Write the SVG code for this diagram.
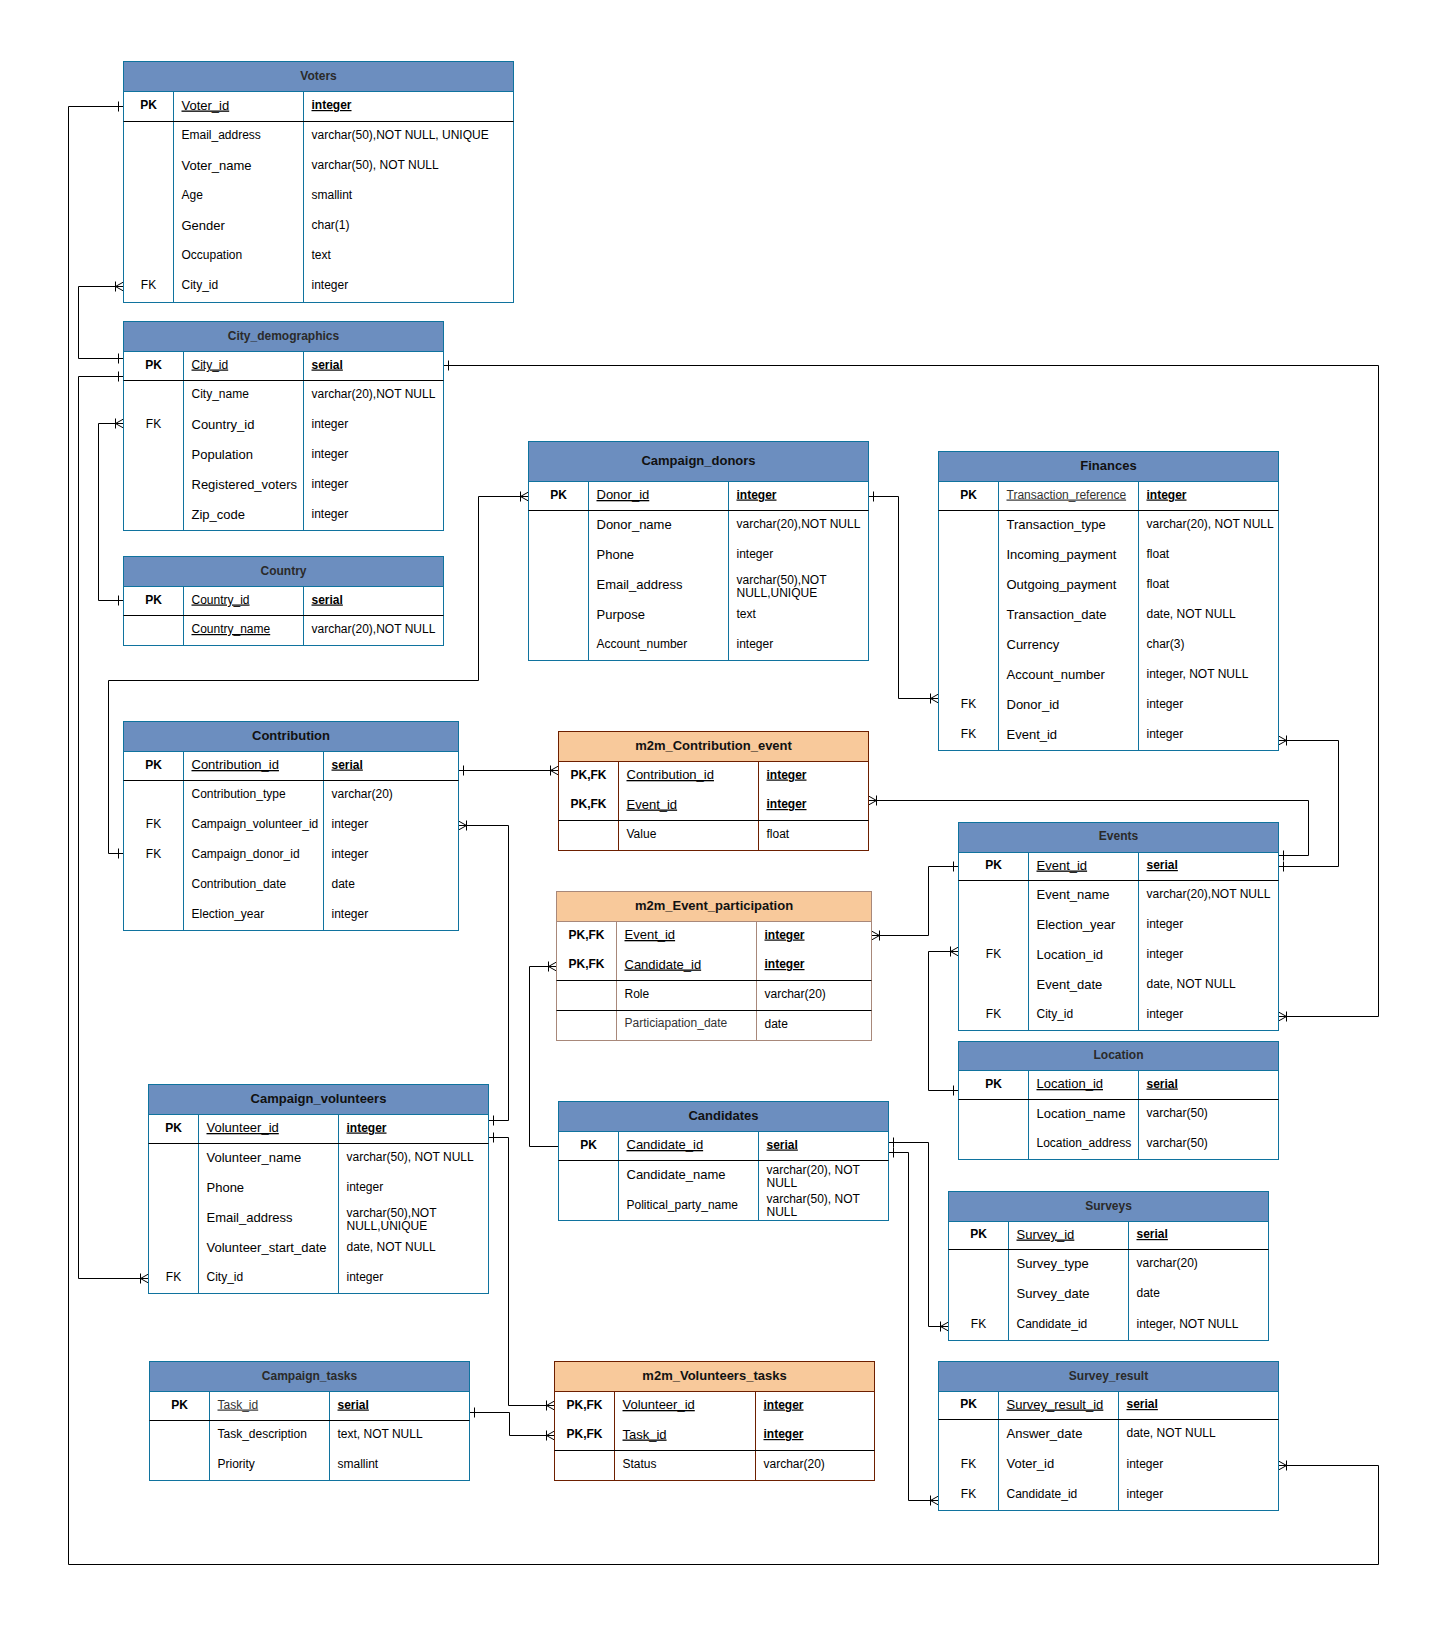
<svg xmlns="http://www.w3.org/2000/svg" width="1448" height="1634" viewBox="0 0 1448 1634">
<style>
text { font-family: "Liberation Sans", Arial, sans-serif; fill: #000; }
.s12 { font-size: 12px; }
.s13 { font-size: 13px; }
.b { font-weight: bold; }
.u { text-decoration: underline; }
.c { text-anchor: middle; }
.g { fill: #333; }
.tb { font-size: 13px; font-weight: bold; text-anchor: middle; fill: #111; }
.tp { font-size: 12px; font-weight: bold; text-anchor: middle; fill: #2a2a2a; }
.hb { fill: #6c8ebf; stroke: #10739e; }
.bb { fill: #fff; stroke: #10739e; }
.cb { fill: none; stroke: #10739e; }
.ho { fill: #f8c99b; stroke: #6d1f00; }
.bo { fill: #fff; stroke: #6d1f00; }
.co { fill: none; stroke: #6d1f00; }
.ho2 { fill: #f8c99b; stroke: #a8887a; }
.bo2 { fill: #fff; stroke: #a8887a; }
.co2 { fill: none; stroke: #a8887a; }
.sep { fill: none; stroke: #000; }
.cn { fill: none; stroke: #000; stroke-width: 1; }
</style>
<defs>
  <!-- single bar: exactly one -->
  <marker id="one" markerUnits="userSpaceOnUse" markerWidth="24" markerHeight="24" viewBox="-12 -12 24 24" refX="0" refY="0" orient="auto-start-reverse" overflow="visible">
    <path d="M-5,-5V5" fill="none" stroke="#000"/>
  </marker>
  <!-- crow's foot with bar: one or many -->
  <marker id="many" markerUnits="userSpaceOnUse" markerWidth="24" markerHeight="24" viewBox="-12 -12 24 24" refX="0" refY="0" orient="auto-start-reverse" overflow="visible">
    <path d="M0,-4.5L-8,0L0,4.5M-8,-5V5" fill="none" stroke="#000"/>
  </marker>
</defs>
<rect width="1448" height="1634" fill="#fff"/>

<g id="connectors" transform="translate(0.5,0.5)">
  <path class="cn" d="M123,106H68V1564H1378V1465H1278" marker-start="url(#one)" marker-end="url(#many)"/>
  <path class="cn" d="M123,286H78V358H123" marker-start="url(#many)" marker-end="url(#one)"/>
  <path class="cn" d="M123,376H78V1278H148" marker-start="url(#one)" marker-end="url(#many)"/>
  <path class="cn" d="M123,423H98V600H123" marker-start="url(#many)" marker-end="url(#one)"/>
  <path class="cn" d="M443,365H1378V1016H1278" marker-start="url(#one)" marker-end="url(#many)"/>
  <path class="cn" d="M528,496H478V680H108V853H123" marker-start="url(#many)" marker-end="url(#one)"/>
  <path class="cn" d="M868,496H898V698H938" marker-start="url(#one)" marker-end="url(#many)"/>
  <path class="cn" d="M458,770H558" marker-start="url(#one)" marker-end="url(#many)"/>
  <path class="cn" d="M458,825H508V1120H488" marker-start="url(#many)" marker-end="url(#one)"/>
  <path class="cn" d="M868,800H1308V855H1278" marker-start="url(#many)" marker-end="url(#one)"/>
  <path class="cn" d="M1278,740H1338V866H1278" marker-start="url(#many)" marker-end="url(#one)"/>
  <path class="cn" d="M871,935H928V866H958" marker-start="url(#many)" marker-end="url(#one)"/>
  <path class="cn" d="M556,966H529V1146H558" marker-start="url(#many)"/>
  <path class="cn" d="M958,951H928V1090H958" marker-start="url(#many)" marker-end="url(#one)"/>
  <path class="cn" d="M888,1142H928V1326H948" marker-start="url(#one)" marker-end="url(#many)"/>
  <path class="cn" d="M888,1152H908V1500H938" marker-start="url(#one)" marker-end="url(#many)"/>
  <path class="cn" d="M488,1137H508V1405H554" marker-start="url(#one)" marker-end="url(#many)"/>
  <path class="cn" d="M469,1412H509V1435H554" marker-start="url(#one)" marker-end="url(#many)"/>
</g>

<g id="voters" transform="translate(0.5,0.5)">
  <rect class="hb" x="123" y="61" width="390" height="30"/>
  <rect class="bb" x="123" y="91" width="390" height="211"/>
  <path class="cb" d="M173,91V302M303,91V302"/>
  <path class="sep" d="M123,121H513"/>
  <text class="tp" x="318" y="79">Voters</text>
  <text class="s12 b c" x="148" y="108.5">PK</text>
  <text class="s13 u" x="181" y="109">Voter_id</text>
  <text class="s12 b u" x="311" y="108.5">integer</text>
  <text class="s12" x="181" y="138.5">Email_address</text>
  <text class="s12" x="311" y="138.5">varchar(50),NOT NULL, UNIQUE</text>
  <text class="s13" x="181" y="169">Voter_name</text>
  <text class="s12" x="311" y="168.5">varchar(50), NOT NULL</text>
  <text class="s12" x="181" y="198.5">Age</text>
  <text class="s12" x="311" y="198.5">smallint</text>
  <text class="s13" x="181" y="229">Gender</text>
  <text class="s12" x="311" y="228.5">char(1)</text>
  <text class="s12" x="181" y="258.5">Occupation</text>
  <text class="s12" x="311" y="258.5">text</text>
  <text class="s12 c" x="148" y="288.5">FK</text>
  <text class="s12" x="181" y="288.5">City_id</text>
  <text class="s12" x="311" y="288.5">integer</text>
</g>

<g id="city_demographics" transform="translate(0.5,0.5)">
  <rect class="hb" x="123" y="321" width="320" height="30"/>
  <rect class="bb" x="123" y="351" width="320" height="179"/>
  <path class="cb" d="M183,351V530M303,351V530"/>
  <path class="sep" d="M123,380H443"/>
  <text class="tp" x="283" y="339">City_demographics</text>
  <text class="s12 b c" x="153" y="368">PK</text>
  <text class="s12 u" x="191" y="368">City_id</text>
  <text class="s12 b u" x="311" y="368">serial</text>
  <text class="s12" x="191" y="397.5">City_name</text>
  <text class="s12" x="311" y="397.5">varchar(20),NOT NULL</text>
  <text class="s12 c" x="153" y="427.5">FK</text>
  <text class="s13" x="191" y="428">Country_id</text>
  <text class="s12" x="311" y="427.5">integer</text>
  <text class="s13" x="191" y="458">Population</text>
  <text class="s12" x="311" y="457.5">integer</text>
  <text class="s13" x="191" y="488">Registered_voters</text>
  <text class="s12" x="311" y="487.5">integer</text>
  <text class="s13" x="191" y="518">Zip_code</text>
  <text class="s12" x="311" y="517.5">integer</text>
</g>

<g id="country" transform="translate(0.5,0.5)">
  <rect class="hb" x="123" y="556" width="320" height="30"/>
  <rect class="bb" x="123" y="586" width="320" height="59"/>
  <path class="cb" d="M183,586V645M303,586V645"/>
  <path class="sep" d="M123,615H443"/>
  <text class="tp" x="283" y="574">Country</text>
  <text class="s12 b c" x="153" y="603">PK</text>
  <text class="s12 u" x="191" y="603">Country_id</text>
  <text class="s12 b u" x="311" y="603">serial</text>
  <text class="s12 u" x="191" y="632.5">Country_name</text>
  <text class="s12" x="311" y="632.5">varchar(20),NOT NULL</text>
</g>

<g id="campaign_donors" transform="translate(0.5,0.5)">
  <rect class="hb" x="528" y="441" width="340" height="40"/>
  <rect class="bb" x="528" y="481" width="340" height="179"/>
  <path class="cb" d="M588,481V660M728,481V660"/>
  <path class="sep" d="M528,510H868"/>
  <text class="tb" x="698" y="464">Campaign_donors</text>
  <text class="s12 b c" x="558" y="498">PK</text>
  <text class="s13 u" x="596" y="498.5">Donor_id</text>
  <text class="s12 b u" x="736" y="498">integer</text>
  <text class="s13" x="596" y="528">Donor_name</text>
  <text class="s12" x="736" y="527">varchar(20),NOT NULL</text>
  <text class="s13" x="596" y="558">Phone</text>
  <text class="s12" x="736" y="557">integer</text>
  <text class="s13" x="596" y="588">Email_address</text>
  <text class="s12" x="736" y="583">varchar(50),NOT</text>
  <text class="s12" x="736" y="596">NULL,UNIQUE</text>
  <text class="s13" x="596" y="618">Purpose</text>
  <text class="s12" x="736" y="617">text</text>
  <text class="s12" x="596" y="647.5">Account_number</text>
  <text class="s12" x="736" y="647">integer</text>
</g>

<g id="finances" transform="translate(0.5,0.5)">
  <rect class="hb" x="938" y="451" width="340" height="30"/>
  <rect class="bb" x="938" y="481" width="340" height="269"/>
  <path class="cb" d="M998,481V750M1138,481V750"/>
  <path class="sep" d="M938,510H1278"/>
  <text class="tb" x="1108" y="469.5">Finances</text>
  <text class="s12 b c" x="968" y="498">PK</text>
  <text class="s12 u g" x="1006" y="498">Transaction_reference</text>
  <text class="s12 b u" x="1146" y="498">integer</text>
  <text class="s13" x="1006" y="528">Transaction_type</text>
  <text class="s12" x="1146" y="527">varchar(20), NOT NULL</text>
  <text class="s13" x="1006" y="558">Incoming_payment</text>
  <text class="s12" x="1146" y="557">float</text>
  <text class="s13" x="1006" y="588">Outgoing_payment</text>
  <text class="s12" x="1146" y="587">float</text>
  <text class="s13" x="1006" y="618">Transaction_date</text>
  <text class="s12" x="1146" y="617">date, NOT NULL</text>
  <text class="s13" x="1006" y="648">Currency</text>
  <text class="s12" x="1146" y="647">char(3)</text>
  <text class="s13" x="1006" y="678">Account_number</text>
  <text class="s12" x="1146" y="677">integer, NOT NULL</text>
  <text class="s12 c" x="968" y="707.5">FK</text>
  <text class="s13" x="1006" y="708">Donor_id</text>
  <text class="s12" x="1146" y="707">integer</text>
  <text class="s12 c" x="968" y="737.5">FK</text>
  <text class="s13" x="1006" y="738">Event_id</text>
  <text class="s12" x="1146" y="737">integer</text>
</g>

<g id="contribution" transform="translate(0.5,0.5)">
  <rect class="hb" x="123" y="721" width="335" height="30"/>
  <rect class="bb" x="123" y="751" width="335" height="179"/>
  <path class="cb" d="M183,751V930M323,751V930"/>
  <path class="sep" d="M123,780H458"/>
  <text class="tb" x="290.5" y="739.5">Contribution</text>
  <text class="s12 b c" x="153" y="768">PK</text>
  <text class="s13 u" x="191" y="768.5">Contribution_id</text>
  <text class="s12 b u" x="331" y="768">serial</text>
  <text class="s12" x="191" y="797.5">Contribution_type</text>
  <text class="s12" x="331" y="797.5">varchar(20)</text>
  <text class="s12 c" x="153" y="827.5">FK</text>
  <text class="s12" x="191" y="827.5">Campaign_volunteer_id</text>
  <text class="s12" x="331" y="827.5">integer</text>
  <text class="s12 c" x="153" y="857.5">FK</text>
  <text class="s12" x="191" y="857.5">Campaign_donor_id</text>
  <text class="s12" x="331" y="857.5">integer</text>
  <text class="s12" x="191" y="887.5">Contribution_date</text>
  <text class="s12" x="331" y="887.5">date</text>
  <text class="s12" x="191" y="917.5">Election_year</text>
  <text class="s12" x="331" y="917.5">integer</text>
</g>

<g id="m2m_contribution_event" transform="translate(0.5,0.5)">
  <rect class="ho" x="558" y="731" width="310" height="30"/>
  <rect class="bo" x="558" y="761" width="310" height="89"/>
  <path class="co" d="M618,761V850M758,761V850"/>
  <path class="sep" d="M558,820H868"/>
  <text class="tb" x="713" y="749.5">m2m_Contribution_event</text>
  <text class="s12 b c" x="588" y="778">PK,FK</text>
  <text class="s13 u" x="626" y="778.5">Contribution_id</text>
  <text class="s12 b u" x="766" y="778">integer</text>
  <text class="s12 b c" x="588" y="807.5">PK,FK</text>
  <text class="s13 u" x="626" y="808">Event_id</text>
  <text class="s12 b u" x="766" y="807.5">integer</text>
  <text class="s12" x="626" y="837.5">Value</text>
  <text class="s12" x="766" y="837.5">float</text>
</g>

<g id="m2m_event_participation" transform="translate(0.5,0.5)">
  <rect class="ho2" x="556" y="891" width="315" height="30"/>
  <rect class="bo2" x="556" y="921" width="315" height="119"/>
  <path class="co2" d="M616,921V1040M756,921V1040"/>
  <path class="sep" d="M556,980H871M556,1010H871"/>
  <text class="tb" x="713.5" y="909.5">m2m_Event_participation</text>
  <text class="s12 b c" x="586" y="938">PK,FK</text>
  <text class="s13 u" x="624" y="938.5">Event_id</text>
  <text class="s12 b u" x="764" y="938">integer</text>
  <text class="s12 b c" x="586" y="967.5">PK,FK</text>
  <text class="s13 u" x="624" y="968">Candidate_id</text>
  <text class="s12 b u" x="764" y="967.5">integer</text>
  <text class="s12" x="624" y="997">Role</text>
  <text class="s12" x="764" y="997.5">varchar(20)</text>
  <text class="s12 g" x="624" y="1026.5">Particiapation_date</text>
  <text class="s12" x="764" y="1027.5">date</text>
</g>

<g id="events" transform="translate(0.5,0.5)">
  <rect class="hb" x="958" y="822" width="320" height="30"/>
  <rect class="bb" x="958" y="852" width="320" height="178"/>
  <path class="cb" d="M1028,852V1030M1138,852V1030"/>
  <path class="sep" d="M958,880H1278"/>
  <text class="tp" x="1118" y="839.5">Events</text>
  <text class="s12 b c" x="993" y="868.5">PK</text>
  <text class="s13 u" x="1036" y="869">Event_id</text>
  <text class="s12 b u" x="1146" y="868.5">serial</text>
  <text class="s13" x="1036" y="898">Event_name</text>
  <text class="s12" x="1146" y="897.5">varchar(20),NOT NULL</text>
  <text class="s13" x="1036" y="928">Election_year</text>
  <text class="s12" x="1146" y="927.5">integer</text>
  <text class="s12 c" x="993" y="957.5">FK</text>
  <text class="s13" x="1036" y="958">Location_id</text>
  <text class="s12" x="1146" y="957.5">integer</text>
  <text class="s13" x="1036" y="988">Event_date</text>
  <text class="s12" x="1146" y="987.5">date, NOT NULL</text>
  <text class="s12 c" x="993" y="1017.5">FK</text>
  <text class="s12" x="1036" y="1017.5">City_id</text>
  <text class="s12" x="1146" y="1017.5">integer</text>
</g>

<g id="location" transform="translate(0.5,0.5)">
  <rect class="hb" x="958" y="1041" width="320" height="29"/>
  <rect class="bb" x="958" y="1070" width="320" height="89"/>
  <path class="cb" d="M1028,1070V1159M1138,1070V1159"/>
  <path class="sep" d="M958,1099H1278"/>
  <text class="tp" x="1118" y="1058">Location</text>
  <text class="s12 b c" x="993" y="1087">PK</text>
  <text class="s13 u" x="1036" y="1087.5">Location_id</text>
  <text class="s12 b u" x="1146" y="1087">serial</text>
  <text class="s13" x="1036" y="1117">Location_name</text>
  <text class="s12" x="1146" y="1116.5">varchar(50)</text>
  <text class="s12" x="1036" y="1146.5">Location_address</text>
  <text class="s12" x="1146" y="1146.5">varchar(50)</text>
</g>

<g id="campaign_volunteers" transform="translate(0.5,0.5)">
  <rect class="hb" x="148" y="1084" width="340" height="30"/>
  <rect class="bb" x="148" y="1114" width="340" height="179"/>
  <path class="cb" d="M198,1114V1293M338,1114V1293"/>
  <path class="sep" d="M148,1143H488"/>
  <text class="tb" x="318" y="1102">Campaign_volunteers</text>
  <text class="s12 b c" x="173" y="1131">PK</text>
  <text class="s13 u" x="206" y="1131.5">Volunteer_id</text>
  <text class="s12 b u" x="346" y="1131">integer</text>
  <text class="s13" x="206" y="1161">Volunteer_name</text>
  <text class="s12" x="346" y="1160">varchar(50), NOT NULL</text>
  <text class="s13" x="206" y="1191">Phone</text>
  <text class="s12" x="346" y="1190">integer</text>
  <text class="s13" x="206" y="1221">Email_address</text>
  <text class="s12" x="346" y="1216">varchar(50),NOT</text>
  <text class="s12" x="346" y="1229.5">NULL,UNIQUE</text>
  <text class="s13" x="206" y="1251">Volunteer_start_date</text>
  <text class="s12" x="346" y="1250">date, NOT NULL</text>
  <text class="s12 c" x="173" y="1280.5">FK</text>
  <text class="s12" x="206" y="1280.5">City_id</text>
  <text class="s12" x="346" y="1280.5">integer</text>
</g>

<g id="candidates" transform="translate(0.5,0.5)">
  <rect class="hb" x="558" y="1101" width="330" height="30"/>
  <rect class="bb" x="558" y="1131" width="330" height="89"/>
  <path class="cb" d="M618,1131V1220M758,1131V1220"/>
  <path class="sep" d="M558,1160H888"/>
  <text class="tb" x="723" y="1119">Candidates</text>
  <text class="s12 b c" x="588" y="1148">PK</text>
  <text class="s13 u" x="626" y="1148.5">Candidate_id</text>
  <text class="s12 b u" x="766" y="1148">serial</text>
  <text class="s13" x="626" y="1178.5">Candidate_name</text>
  <text class="s12" x="766" y="1173">varchar(20), NOT</text>
  <text class="s12" x="766" y="1186.5">NULL</text>
  <text class="s12" x="626" y="1208">Political_party_name</text>
  <text class="s12" x="766" y="1202">varchar(50), NOT</text>
  <text class="s12" x="766" y="1215.5">NULL</text>
</g>

<g id="surveys" transform="translate(0.5,0.5)">
  <rect class="hb" x="948" y="1191" width="320" height="30"/>
  <rect class="bb" x="948" y="1221" width="320" height="119"/>
  <path class="cb" d="M1008,1221V1340M1128,1221V1340"/>
  <path class="sep" d="M948,1249H1268"/>
  <text class="tp" x="1108" y="1209">Surveys</text>
  <text class="s12 b c" x="978" y="1237.5">PK</text>
  <text class="s13 u" x="1016" y="1238">Survey_id</text>
  <text class="s12 b u" x="1136" y="1237.5">serial</text>
  <text class="s13" x="1016" y="1267">Survey_type</text>
  <text class="s12" x="1136" y="1266">varchar(20)</text>
  <text class="s13" x="1016" y="1297.5">Survey_date</text>
  <text class="s12" x="1136" y="1296.5">date</text>
  <text class="s12 c" x="978" y="1327">FK</text>
  <text class="s12" x="1016" y="1327">Candidate_id</text>
  <text class="s12" x="1136" y="1327">integer, NOT NULL</text>
</g>

<g id="survey_result" transform="translate(0.5,0.5)">
  <rect class="hb" x="938" y="1361" width="340" height="30"/>
  <rect class="bb" x="938" y="1391" width="340" height="119"/>
  <path class="cb" d="M998,1391V1510M1118,1391V1510"/>
  <path class="sep" d="M938,1419H1278"/>
  <text class="tp" x="1108" y="1379">Survey_result</text>
  <text class="s12 b c" x="968" y="1407.5">PK</text>
  <text class="s13 u" x="1006" y="1408">Survey_result_id</text>
  <text class="s12 b u" x="1126" y="1407.5">serial</text>
  <text class="s13" x="1006" y="1437.5">Answer_date</text>
  <text class="s12" x="1126" y="1436.5">date, NOT NULL</text>
  <text class="s12 c" x="968" y="1467">FK</text>
  <text class="s13" x="1006" y="1467.5">Voter_id</text>
  <text class="s12" x="1126" y="1467">integer</text>
  <text class="s12 c" x="968" y="1497">FK</text>
  <text class="s12" x="1006" y="1497">Candidate_id</text>
  <text class="s12" x="1126" y="1497">integer</text>
</g>

<g id="campaign_tasks" transform="translate(0.5,0.5)">
  <rect class="hb" x="149" y="1361" width="320" height="30"/>
  <rect class="bb" x="149" y="1391" width="320" height="89"/>
  <path class="cb" d="M209,1391V1480M329,1391V1480"/>
  <path class="sep" d="M149,1420H469"/>
  <text class="tp" x="309" y="1379">Campaign_tasks</text>
  <text class="s12 b c" x="179" y="1408">PK</text>
  <text class="s12 u g" x="217" y="1408">Task_id</text>
  <text class="s12 b u" x="337" y="1408">serial</text>
  <text class="s12" x="217" y="1437.5">Task_description</text>
  <text class="s12" x="337" y="1437.5">text, NOT NULL</text>
  <text class="s12" x="217" y="1467.5">Priority</text>
  <text class="s12" x="337" y="1467.5">smallint</text>
</g>

<g id="m2m_volunteers_tasks" transform="translate(0.5,0.5)">
  <rect class="ho" x="554" y="1361" width="320" height="30"/>
  <rect class="bo" x="554" y="1391" width="320" height="89"/>
  <path class="co" d="M614,1391V1480M755,1391V1480"/>
  <path class="sep" d="M554,1450H874"/>
  <text class="tb" x="714" y="1379">m2m_Volunteers_tasks</text>
  <text class="s12 b c" x="584" y="1408">PK,FK</text>
  <text class="s13 u" x="622" y="1408.5">Volunteer_id</text>
  <text class="s12 b u" x="763" y="1408">integer</text>
  <text class="s12 b c" x="584" y="1437.5">PK,FK</text>
  <text class="s13 u" x="622" y="1438">Task_id</text>
  <text class="s12 b u" x="763" y="1437.5">integer</text>
  <text class="s12" x="622" y="1467.5">Status</text>
  <text class="s12" x="763" y="1467.5">varchar(20)</text>
</g>
</svg>
